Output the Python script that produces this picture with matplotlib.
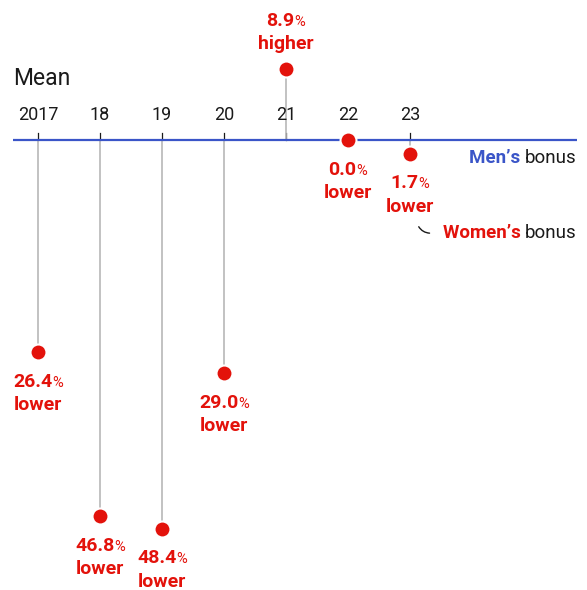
"""Women's vs men's mean bonus gap, dot-and-stem chart."""
import matplotlib
matplotlib.use('Agg')
import matplotlib.pyplot as plt
from matplotlib.offsetbox import TextArea, HPacker, VPacker, AnnotationBbox
from matplotlib.patches import FancyArrowPatch

plt.rcParams['font.family'] = ['Roboto', 'DejaVu Sans']

# data: women's bonus relative to men's, % (negative = lower)
years = [2017, 2018, 2019, 2020, 2021, 2022, 2023]
year_labels = ['2017', '18', '19', '20', '21', '22', '23']
gap_pct = [-26.4, -46.8, -48.4, -29.0, 8.9, 0.0, -1.7]

RED = '#e3120b'
BLUE = '#3a55c8'
GREY = '#b8b8b8'
INK = '#1a1a1a'

fig = plt.figure(figsize=(5.87, 5.90), dpi=100)
ax = fig.add_axes([0, 0, 1, 1])
ax.set_xlim(2016.387, 2025.855)
ax.set_ylim(-56.04, 17.43)
ax.axis('off')

# men's bonus baseline
ax.plot([2016.6, 2025.69], [0, 0], color=BLUE, lw=1.6, zorder=2, solid_capstyle='butt')

for yr, lab, v in zip(years, year_labels, gap_pct):
    ax.plot([yr, yr], [0, 0.87], color=INK, lw=0.9, zorder=1)
    ax.text(yr, 3.1, lab, ha='center', va='center', fontsize=13, color=INK)
    ax.plot([yr, yr], [0, v], color=GREY, lw=1.2, zorder=1)

ax.plot(years, gap_pct, 'o', ms=11.5, color=RED, mec='white', mew=1.5,
        zorder=3, linestyle='none')

# value labels
for yr, v in zip(years, gap_pct):
    num = TextArea(f'{abs(v):.1f}', textprops=dict(color=RED, fontsize=14,
                                                   fontweight='bold'))
    pct = TextArea('%', textprops=dict(color=RED, fontsize=10.5))
    top = HPacker(children=[num, pct], align='baseline', pad=0, sep=0)
    word = TextArea('higher' if v > 0 else 'lower',
                    textprops=dict(color=RED, fontsize=14, fontweight='bold'))
    box = VPacker(children=[top, word], align='center', pad=0, sep=4)
    if v > 0:
        off, align = (0, 11), (0.5, 0)
    else:
        off, align = (0, -15), (0.5, 1)
    ab = AnnotationBbox(box, (yr, v), xybox=off, xycoords='data',
                        boxcoords='offset points', box_alignment=align,
                        frameon=False, pad=0)
    ax.add_artist(ab)

ax.text(2016.6, 7.7, 'Mean', ha='left', va='center', fontsize=16.5, color=INK)

# legend-style labels
b1 = ax.text(2025.69, -2.24, 'bonus', ha='right', va='center', fontsize=13.5, color=INK)
ax.annotate("Men\u2019s ", xy=(0, 0), xycoords=b1, ha='right', va='bottom',
            fontsize=13.5, color=BLUE, fontweight='bold')
b2 = ax.text(2025.69, -11.6, 'bonus', ha='right', va='center', fontsize=13.5, color=INK)
ax.annotate("Women\u2019s ", xy=(0, 0), xycoords=b2, ha='right', va='bottom',
            fontsize=13.5, color=RED, fontweight='bold')

conn = FancyArrowPatch((2023.12, -10.5), (2023.36, -11.6), arrowstyle='-',
                       connectionstyle='arc3,rad=0.35', color=INK, lw=1.0)
ax.add_patch(conn)

fig.savefig('out.png', dpi=100)
